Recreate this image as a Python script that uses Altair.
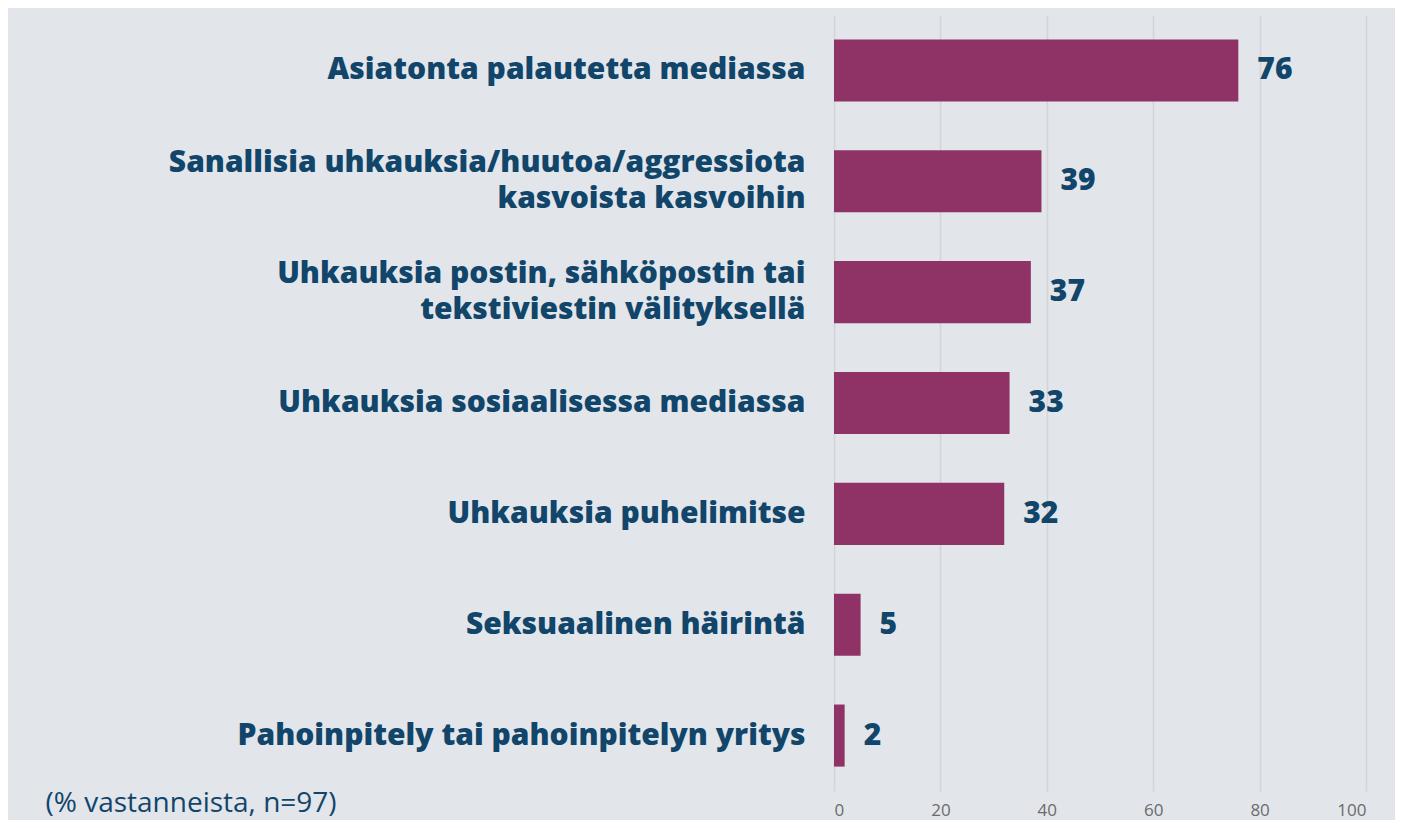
import altair as alt
import pandas as pd

categories = [
    "Asiatonta palautetta mediassa",
    "Sanallisia uhkauksia/huutoa/aggressiota|kasvoista kasvoihin",
    "Uhkauksia postin, sähköpostin tai|tekstiviestin välityksellä",
    "Uhkauksia sosiaalisessa mediassa",
    "Uhkauksia puhelimitse",
    "Seksuaalinen häirintä",
    "Pahoinpitely tai pahoinpitelyn yritys",
]
values = [76, 39, 37, 33, 32, 5, 2]
x_ticks = [0, 20, 40, 60, 80, 100]
footnote = "(% vastanneista, n=97)"

df = pd.DataFrame({"cat": categories, "val": values})

NAVY = "#11456a"
FONT = "Open Sans"
LINE_H = 36

y_enc = alt.Y(
    "cat:N",
    sort=categories,
    scale=alt.Scale(paddingInner=0.44, paddingOuter=0.22),
    axis=alt.Axis(
        title=None,
        ticks=False,
        domain=False,
        labelPadding=29,
        labelFont=FONT,
        labelFontSize=30,
        labelFontWeight=800,
        labelColor=NAVY,
        labelLimit=800,
        labelLineHeight=LINE_H,
        labelExpr="split(datum.label, '|')",
        labelOffset=alt.condition(
            "indexof(datum.value, '|') >= 0", alt.value(-LINE_H / 2), alt.value(0)
        ),
    ),
)

x_enc = alt.X(
    "val:Q",
    scale=alt.Scale(domain=[0, 100]),
    axis=alt.Axis(
        values=x_ticks,
        title=footnote,
        titleFont=FONT,
        titleFontSize=28,
        titleFontWeight="normal",
        titleColor=NAVY,
        titleAnchor="start",
        titleAlign="left",
        titleBaseline="middle",
        titleX=-789,
        titleY=12,
        domain=False,
        ticks=False,
        labelPadding=11,
        labelFont=FONT,
        labelFontSize=17,
        labelColor="#6b6b6b",
        grid=True,
        gridColor="#d3d4d6",
        gridWidth=1.5,
    ),
)

bars = alt.Chart(df).mark_bar(color="#8f3366").encode(y=y_enc, x=x_enc)

text = alt.Chart(df).mark_text(
    align="left",
    baseline="middle",
    dx=19,
    font=FONT,
    fontSize=30,
    fontWeight=800,
    color=NAVY,
).encode(y=alt.Y("cat:N", sort=categories), x="val:Q", text="val:Q")

chart = (
    alt.layer(bars, text)
    .properties(
        width=532,
        height=776,
        background="#e2e5ea",
        padding={"left": 826, "top": 7, "right": 29, "bottom": 29},
        autosize=alt.AutoSizeParams(type="none"),
    )
    .configure_view(stroke=None)
)

chart.save("out.html", embed_options={"renderer": "svg", "actions": False})
